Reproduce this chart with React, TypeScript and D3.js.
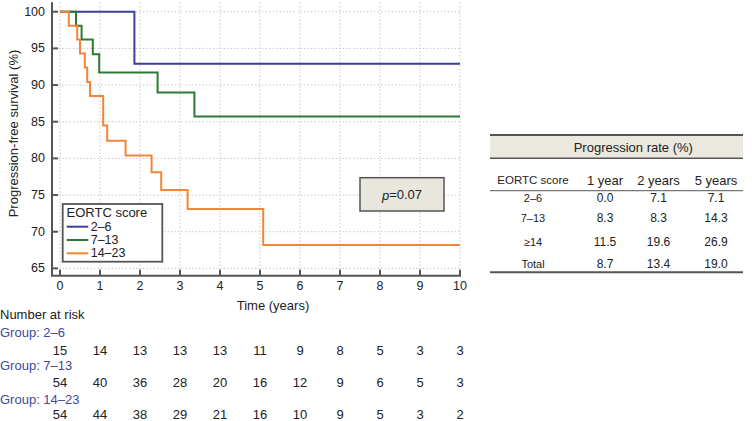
import React from "react";
import * as d3 from "d3";

type Pt = { t: number; s: number };

const groups = ["2–6", "7–13", "14–23"];
const colors = ["#3d3f98", "#2c7a33", "#f2853a"];

const blueTimes = [0, 1.86, 10];
const blueSurv = [100, 92.9, 92.9];
const greenTimes = [0, 0.4, 0.54, 0.82, 0.98, 2.44, 3.36, 10];
const greenSurv = [100, 98.1, 96.2, 94.2, 91.7, 89.0, 85.7, 85.7];
const orangeTimes = [0, 0.22, 0.43, 0.5, 0.62, 0.68, 0.75, 1.08, 1.18, 1.64, 2.29, 2.53, 3.19, 5.08, 10];
const orangeSurv = [100, 98.1, 96.2, 94.3, 92.4, 90.4, 88.5, 84.5, 82.4, 80.4, 78.1, 75.7, 73.1, 68.2, 68.2];

const xTicks = [0, 1, 2, 3, 4, 5, 6, 7, 8, 9, 10];
const yTicks = [65, 70, 75, 80, 85, 90, 95, 100];

const riskGroupLabels = ["Group: 2–6", "Group: 7–13", "Group: 14–23"];
const risk26 = [15, 14, 13, 13, 13, 11, 9, 8, 5, 3, 3];
const risk713 = [54, 40, 36, 28, 20, 16, 12, 9, 6, 5, 3];
const risk1423 = [54, 44, 38, 29, 21, 16, 10, 9, 5, 3, 2];

const tableCols = ["EORTC score", "1 year", "2 years", "5 years"];
const tableRowLabels = ["2–6", "7–13", "≥14", "Total"];
const rate1y = ["0.0", "8.3", "11.5", "8.7"];
const rate2y = ["7.1", "8.3", "19.6", "13.4"];
const rate5y = ["7.1", "14.3", "26.9", "19.0"];

const FONT = "'Liberation Sans', Arial, Helvetica, sans-serif";

export default function App() {
  const x = d3.scaleLinear().domain([0, 10]).range([60, 460]);
  const y = d3.scaleLinear().domain([64, 101.3]).range([275.7, 2.2]);

  const series: Pt[][] = [
    blueTimes.map((t, i) => ({ t, s: blueSurv[i] })),
    greenTimes.map((t, i) => ({ t, s: greenSurv[i] })),
    orangeTimes.map((t, i) => ({ t, s: orangeSurv[i] })),
  ];
  const line = d3
    .line<Pt>()
    .x((d) => x(d.t))
    .y((d) => y(d.s))
    .curve(d3.curveStepAfter);

  const axisColor = "#555";
  const x0 = 52;
  const yBottom = 275.7;

  const riskRows = [risk26, risk713, risk1423];
  const riskLabelY = [332.3, 365.7, 399];
  const riskNumY = [350, 382.3, 414.3];

  const tX0 = 490;
  const tX1 = 743;
  const colX = [533, 605, 658.5, 716];
  const rowY = [198.3, 218.3, 242.3, 264];
  const rateCols = [rate1y, rate2y, rate5y];

  return (
    <svg
      width={752}
      height={421}
      style={{ position: "absolute", left: 0, top: 0, background: "#fff" }}
      fontFamily={FONT}
    >
      {/* grid */}
      <g stroke="#c8c8c8" strokeWidth={1} strokeDasharray="1.5,2">
        {xTicks.map((t) => (
          <line key={"gx" + t} x1={x(t)} x2={x(t)} y1={y(101.3)} y2={yBottom} />
        ))}
        {yTicks.map((v) => (
          <line key={"gy" + v} x1={x0} x2={x(10)} y1={y(v)} y2={y(v)} />
        ))}
      </g>

      {/* curves */}
      {series.map((s, i) => (
        <path key={i} d={line(s) || ""} fill="none" stroke={colors[i]} strokeWidth={2} />
      ))}

      {/* axes */}
      <line x1={x0} x2={x0} y1={y(101.3)} y2={yBottom} stroke={axisColor} strokeWidth={2} />
      <line x1={x0 - 1} x2={x(10) + 1} y1={yBottom} y2={yBottom} stroke={axisColor} strokeWidth={2} />
      {yTicks.map((v) => (
        <g key={"yt" + v}>
          <line x1={x0} x2={x0 + 6} y1={y(v)} y2={y(v)} stroke={axisColor} strokeWidth={2} />
          <text x={45} y={y(v)} textAnchor="end" dominantBaseline="central" fontSize={12.5} fill="#222">
            {v}
          </text>
        </g>
      ))}
      {xTicks.map((t) => (
        <g key={"xt" + t}>
          <line x1={x(t)} x2={x(t)} y1={yBottom} y2={yBottom - 6} stroke={axisColor} strokeWidth={2} />
          <text x={x(t)} y={285.7} textAnchor="middle" dominantBaseline="central" fontSize={12.5} fill="#222">
            {t}
          </text>
        </g>
      ))}
      <text x={273} y={305} textAnchor="middle" dominantBaseline="central" fontSize={13} fill="#222">
        Time (years)
      </text>
      <text
        transform={`translate(13.5,${133.5}) rotate(-90)`}
        textAnchor="middle"
        dominantBaseline="central"
        fontSize={13}
        fill="#222"
      >
        Progression-free survival (%)
      </text>

      {/* legend */}
      <rect x={62.7} y={204} width={99.6} height={57.7} fill="#fff" stroke={axisColor} strokeWidth={1.8} />
      <text x={66.5} y={212.5} dominantBaseline="central" fontSize={13} fill="#222">
        EORTC score
      </text>
      {groups.map((g, i) => (
        <g key={"lg" + i}>
          <line x1={66.7} x2={88.3} y1={226.7 + i * 13.3} y2={226.7 + i * 13.3} stroke={colors[i]} strokeWidth={2} />
          <text x={90.7} y={226.7 + i * 13.3} dominantBaseline="central" fontSize={12.5} fill="#222">
            {g}
          </text>
        </g>
      ))}

      {/* p-value box */}
      <rect x={360} y={177.7} width={84} height={33.3} fill="#e9e7dd" stroke={axisColor} strokeWidth={1.5} />
      <text x={402} y={194.5} textAnchor="middle" dominantBaseline="central" fontSize={13} fill="#222">
        <tspan fontStyle="italic">p</tspan>=0.07
      </text>

      {/* number at risk */}
      <text x={0} y={314.3} dominantBaseline="central" fontSize={13} fill="#222">
        Number at risk
      </text>
      {riskRows.map((row, r) => (
        <g key={"rr" + r}>
          <text x={0} y={riskLabelY[r]} dominantBaseline="central" fontSize={13} fill="#4048a0">
            {riskGroupLabels[r]}
          </text>
          {row.map((n, i) => (
            <text
              key={i}
              x={x(xTicks[i])}
              y={riskNumY[r]}
              textAnchor="middle"
              dominantBaseline="central"
              fontSize={13}
              fill="#222"
            >
              {n}
            </text>
          ))}
        </g>
      ))}

      {/* progression rate table */}
      <rect x={tX0} y={135} width={tX1 - tX0} height={23.3} fill="#ebe9df" />
      <line x1={tX0} x2={tX1} y1={135} y2={135} stroke={axisColor} strokeWidth={2} />
      <line x1={tX0} x2={tX1} y1={158.3} y2={158.3} stroke={axisColor} strokeWidth={1.5} />
      <line x1={tX0} x2={tX1} y1={190.7} y2={190.7} stroke="#777" strokeWidth={1.2} />
      <line x1={tX0} x2={tX1} y1={272.3} y2={272.3} stroke={axisColor} strokeWidth={2} />
      <text x={633.3} y={147} textAnchor="middle" dominantBaseline="central" fontSize={13} fill="#222">
        Progression rate (%)
      </text>
      {tableCols.map((c, i) => (
        <text
          key={"tc" + i}
          x={colX[i]}
          y={180}
          textAnchor="middle"
          dominantBaseline="central"
          fontSize={i === 0 ? 11.5 : 13}
          fill="#222"
        >
          {c}
        </text>
      ))}
      {tableRowLabels.map((lab, r) => (
        <g key={"tr" + r}>
          <text x={colX[0]} y={rowY[r]} textAnchor="middle" dominantBaseline="central" fontSize={11} fill="#222">
            {lab}
          </text>
          {rateCols.map((col, c) => (
            <text
              key={c}
              x={colX[c + 1]}
              y={rowY[r]}
              textAnchor="middle"
              dominantBaseline="central"
              fontSize={12}
              fill="#222"
            >
              {col[r]}
            </text>
          ))}
        </g>
      ))}
    </svg>
  );
}
